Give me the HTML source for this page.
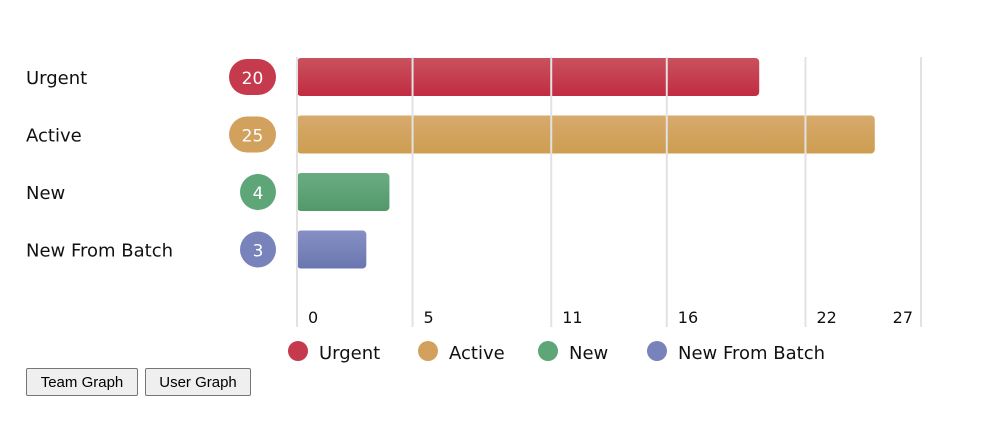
<!DOCTYPE html>
<html><head><meta charset="utf-8"><style>
body{margin:0;width:986px;height:448px;background:#fff;font-family:"DejaVu Sans","Noto Sans CJK KR",sans-serif;position:relative;overflow:hidden}
button{position:absolute;top:368px;height:28px;font:15px "Liberation Sans",sans-serif;background:#efefef;border:1px solid #767676;border-radius:2px;padding:0 8px}
svg text{font-family:"DejaVu Sans",sans-serif}
</style></head><body>
<svg id="chart" width="986" height="448" style="position:absolute;left:0;top:0">
<defs>
<linearGradient id="g0" x1="0" y1="0" x2="0" y2="1"><stop offset="0" stop-color="#c9525e"/><stop offset="1" stop-color="#c12c42"/></linearGradient>
<linearGradient id="g1" x1="0" y1="0" x2="0" y2="1"><stop offset="0" stop-color="#d7aa6e"/><stop offset="1" stop-color="#cd9d50"/></linearGradient>
<linearGradient id="g2" x1="0" y1="0" x2="0" y2="1"><stop offset="0" stop-color="#6aac82"/><stop offset="1" stop-color="#52996a"/></linearGradient>
<linearGradient id="g3" x1="0" y1="0" x2="0" y2="1"><stop offset="0" stop-color="#8690c4"/><stop offset="1" stop-color="#6a76b0"/></linearGradient>
</defs>
</svg>
<button style="left:26px;width:112px">Team Graph</button>
<button style="left:145px;width:106px">User Graph</button>
<script>
const categories=["Urgent","Active","New","New From Batch"];
const values=[20,25,4,3];
const ticks=[0,5,11,16,22,27];
const fills=["url(#g0)","url(#g1)","url(#g2)","url(#g3)"];
const solid=["#c63a4d","#d2a15e","#5ea577","#7882bb"];
const svg=document.getElementById('chart');
const NS="http://www.w3.org/2000/svg";
const x0=297,x1=921,maxV=27;
const xs=v=>x0+(v/maxV)*(x1-x0);
const rowY=i=>58+i*57.5;
function mk(t,a){const e=document.createElementNS(NS,t);for(const k in a)e.setAttribute(k,a[k]);svg.appendChild(e);return e;}
categories.forEach((c,i)=>{
  const y=rowY(i);
  const lab=mk('text',{x:26,y:y+26,'font-size':18,fill:'#111'});lab.textContent=c;
  
  
  const b=mk('rect',{x:x0,y:y,width:xs(values[i])-x0,height:38,rx:4,fill:fills[i]});
  
  
  const s=String(values[i]);const w=s.length>1?47:36;
  const p=mk('rect',{x:276-w,y:y+1,width:w,height:36,rx:18,fill:solid[i]});
  
  
  const t=mk('text',{x:276-w/2,y:y+26,'font-size':17,fill:'#fff','text-anchor':'middle'});t.textContent=s;
  
  
});
ticks.forEach((v,i)=>{
  const x=xs(v);
  const l=mk('line',{x1:x,x2:x,y1:57,y2:327,stroke:'#e2e2e2','stroke-width':2});
  
  
  const last=i===ticks.length-1;
  const t=mk('text',{x:last?x-8:x+11,y:323,'font-size':16,fill:'#111','text-anchor':last?'end':'start'});t.textContent=v;
  
  
});
const lx=[298,428,548,657];
categories.forEach((c,i)=>{
  const d=mk('circle',{cx:lx[i],cy:351,r:10,fill:solid[i]});
  
  
  const t=mk('text',{x:lx[i]+21,y:359,'font-size':18,fill:'#111'});t.textContent=c;
  
  
});
</script>
</body></html>
